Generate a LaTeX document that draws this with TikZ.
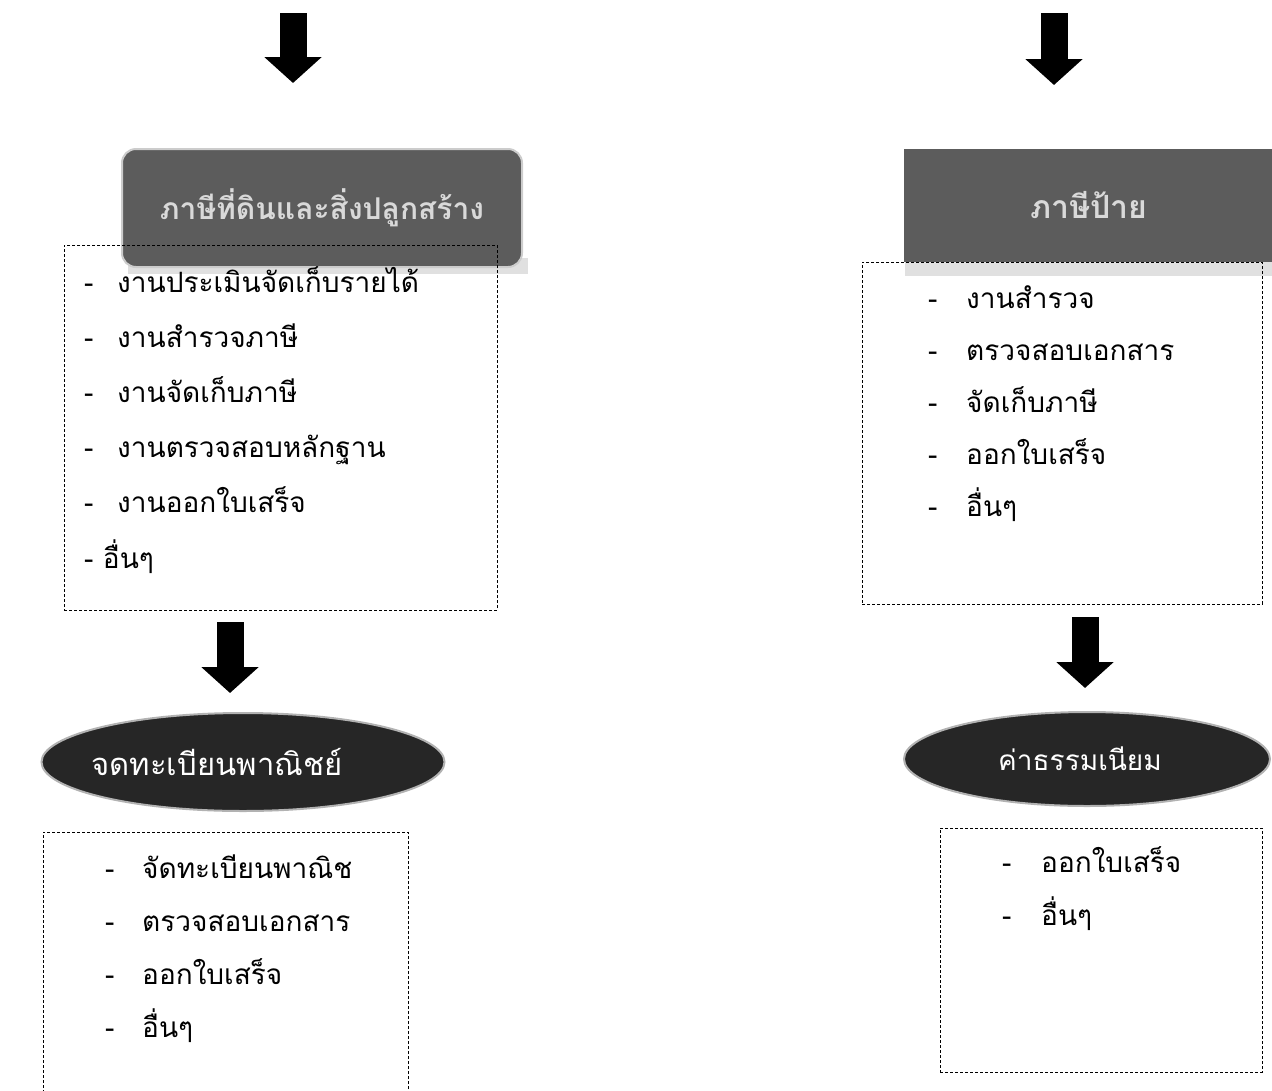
\documentclass[tikz,border=0pt]{standalone}
\usepackage{fontspec}
\newfontfamily\thaifont[Script=Thai]{Loma}
\usetikzlibrary{arrows.meta,shapes.geometric}

\begin{document}
\begin{tikzpicture}[x=1pt, y=-1pt,
        item/.style={anchor=west, inner sep=0pt, text height=21pt, text depth=7pt,
            font=\thaifont\fontsize{28}{32}\selectfont},
        listbox/.style={draw, densely dashed, thin, anchor=north west, inner sep=0pt},
        banner/.style={fill=black!64, draw=black!20, line width=2pt, text=black!15, inner sep=0pt,
            font=\thaifont\bfseries\fontsize{30}{34}\selectfont},
        tag/.style={ellipse, fill=black!85, draw=black!30, line width=2pt, text=white, inner sep=0pt},
        bigarrow/.style={line width=27pt, -{Triangle[width=56pt, length=26pt]}}
    ]
    \useasboundingbox (0,0) rectangle (1272,1090);

    % Top arrows
    \coordinate (LA1) at (293,13);
    \coordinate (LA2) at (293,83);
    \coordinate (RA1) at (1054,13);
    \coordinate (RA2) at (1054,85);
    \draw[bigarrow] (LA1) -- (LA2);
    \draw[bigarrow] (RA1) -- (RA2);

    % Banners
    \fill[black!12] (128,258) rectangle (528,274);
    \node[banner, rounded corners=14pt, minimum width=400, minimum height=118] (landtax) at (322,208) {ภาษีที่ดินและสิ่งปลูกสร้าง};
    \fill[black!12] (905,262) rectangle (1272,276);
    \node[banner, draw=none, minimum width=370, minimum height=113, font=\thaifont\bfseries\fontsize{32}{34}\selectfont] (signtax) at (1089,205) {ภาษีป้าย};

    % Task boxes
    \node[listbox, minimum width=433, minimum height=365] (landbox) at (64,245) {};
    \node[listbox, minimum width=400, minimum height=342] (signbox) at (862,262) {};

    % Left list
    \foreach \txt [count=\i] in {งานประเมินจัดเก็บรายได้, งานสำรวจภาษี, งานจัดเก็บภาษี, งานตรวจสอบหลักฐาน, งานออกใบเสร็จ} {
        \node[item] (LD\i) at (84, 285+55.2*\i-55.2) {-};
        \node[item] (LT\i) at (117, 285+55.2*\i-55.2) {\txt};
    }
    \node[item] (LT6) at (84, 561) {- อื่นๆ};

    % Right list
    \foreach \txt [count=\i] in {งานสำรวจ, ตรวจสอบเอกสาร, จัดเก็บภาษี, ออกใบเสร็จ, อื่นๆ} {
        \node[item] (RD\i) at (928, 301+52*\i-52) {-};
        \node[item] (RT\i) at (966, 301+52*\i-52) {\txt};
    }

    % Middle arrows
    \coordinate (LB1) at (230,622);
    \coordinate (LB2) at (230,693);
    \coordinate (RB1) at (1085,617);
    \coordinate (RB2) at (1085,688);
    \draw[bigarrow] (LB1) -- (LB2);
    \draw[bigarrow] (RB1) -- (RB2);

    % Ellipses
    \node[tag, inner xsep=-14pt, minimum width=403, minimum height=98, font=\thaifont\fontsize{31}{34}\selectfont] (commerce) at (243,762) {จดทะเบียนพาณิชย์\rule{52pt}{0pt}};
    \node[tag, minimum width=366, minimum height=94, font=\thaifont\fontsize{28}{32}\selectfont] (fee) at (1087,759) {ค่าธรรมเนียม\rule{14pt}{0pt}};

    % Bottom boxes
    \node[listbox, minimum width=365, minimum height=262] (commercebox) at (43,832) {};
    \node[listbox, minimum width=322, minimum height=244] (feebox) at (940,828) {};

    \foreach \txt [count=\i] in {จัดทะเบียนพาณิช, ตรวจสอบเอกสาร, ออกใบเสร็จ, อื่นๆ} {
        \node[item] (CD\i) at (105, 871+53*\i-53) {-};
        \node[item] (CT\i) at (142, 871+53*\i-53) {\txt};
    }
    \foreach \txt [count=\i] in {ออกใบเสร็จ, อื่นๆ} {
        \node[item] (FD\i) at (1002, 865+53*\i-53) {-};
        \node[item] (FT\i) at (1041, 865+53*\i-53) {\txt};
    }

\end{tikzpicture}
\end{document}
